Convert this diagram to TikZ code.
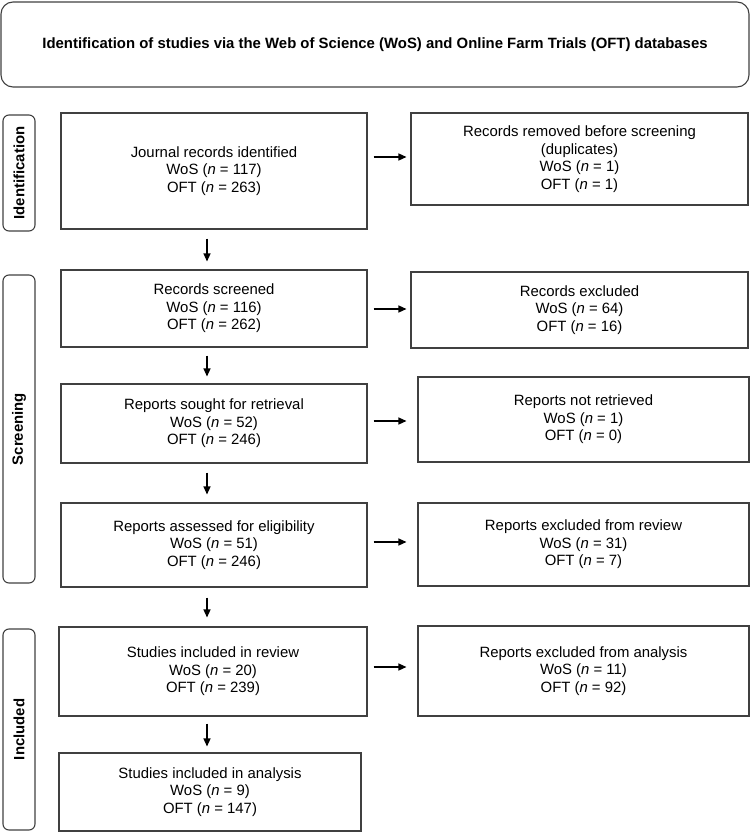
\documentclass[tikz,border=0pt]{standalone}
\usepackage{fontspec}
\setmainfont{Liberation Sans}
\usetikzlibrary{arrows.meta,calc}
\begin{document}
\begin{tikzpicture}[x=1pt,y=-1pt,
  box/.style={draw=black!75,line width=1.1pt,align=center,inner sep=0pt,
    font=\fontsize{14.9}{17.5}\selectfont},
  tab/.style={draw=black!75,line width=1.1pt,rounded corners=6pt,rotate=90,
    inner sep=0pt,font=\fontsize{14.9}{17.5}\selectfont\bfseries},
  arr/.style={line width=1.3pt,-{Triangle[length=8pt,width=7pt]}}]
\useasboundingbox (0,0) rectangle (750,832);

\node[box,rounded corners=12pt,minimum width=748pt,minimum height=85pt,font=\fontsize{14.9}{17.5}\selectfont\bfseries]
  (title) at (375,44.5) {Identification of studies via the Web of Science (WoS) and Online Farm Trials (OFT) databases};

\node[tab,minimum width=116pt,minimum height=32pt] (tid) at (19,173) {Identification};
\node[tab,minimum width=308pt,minimum height=32pt] (tsc) at (19,429) {Screening};
\node[tab,minimum width=201pt,minimum height=32pt] (tin) at (19,729.5) {Included};

\node[box,minimum width=306pt,minimum height=116pt] (b1) at (214,171)
  {Journal records identified\\WoS (\textit{n} = 117)\\OFT (\textit{n} = 263)};
\node[box,minimum width=337pt,minimum height=92pt] (r1) at (579.5,159)
  {Records removed before screening\\(duplicates)\\WoS (\textit{n} = 1)\\OFT (\textit{n} = 1)};
\node[box,minimum width=306pt,minimum height=77pt] (b2) at (214,308.5)
  {Records screened\\WoS (\textit{n} = 116)\\OFT (\textit{n} = 262)};
\node[box,minimum width=337pt,minimum height=76pt] (r2) at (579.5,310)
  {Records excluded\\WoS (\textit{n} = 64)\\OFT (\textit{n} = 16)};
\node[box,minimum width=306pt,minimum height=79pt] (b3) at (214,423.5)
  {Reports sought for retrieval\\WoS (\textit{n} = 52)\\OFT (\textit{n} = 246)};
\node[box,minimum width=331pt,minimum height=85pt] (r3) at (583.5,419.5)
  {Reports not retrieved\\WoS (\textit{n} = 1)\\OFT (\textit{n} = 0)};
\node[box,minimum width=306pt,minimum height=84pt] (b4) at (214,545)
  {Reports assessed for eligibility\\WoS (\textit{n} = 51)\\OFT (\textit{n} = 246)};
\node[box,minimum width=331pt,minimum height=83pt] (r4) at (583.5,544.5)
  {Reports excluded from review\\WoS (\textit{n} = 31)\\OFT (\textit{n} = 7)};
\node[box,minimum width=308pt,minimum height=89pt] (b5) at (213,671.5)
  {Studies included in review\\WoS (\textit{n} = 20)\\OFT (\textit{n} = 239)};
\node[box,minimum width=331pt,minimum height=90pt] (r5) at (583.5,671)
  {Reports excluded from analysis\\WoS (\textit{n} = 11)\\OFT (\textit{n} = 92)};
\node[box,minimum width=302pt,minimum height=78pt] (b6) at (210,792)
  {Studies included in analysis\\WoS (\textit{n} = 9)\\OFT (\textit{n} = 147)};

% vertical arrows
\draw[arr,shorten <=9pt,shorten >=8pt] ([xshift=-7pt]b1.south) -- ([xshift=-7pt]b1.south |- b2.north);
\draw[arr,shorten <=8pt,shorten >=7pt] ([xshift=-7pt]b2.south) -- ([xshift=-7pt]b2.south |- b3.north);
\draw[arr,shorten <=9pt,shorten >=8pt] ([xshift=-7pt]b3.south) -- ([xshift=-7pt]b3.south |- b4.north);
\draw[arr,shorten <=10pt,shorten >=9pt] ([xshift=-7pt]b4.south) -- ([xshift=-7pt]b4.south |- b5.north);
\draw[arr,shorten <=7pt,shorten >=6pt] ([xshift=-6pt]b5.south) -- ([xshift=-6pt]b5.south |- b6.north);

% horizontal arrows
\draw[arr,shorten <=6pt,shorten >=4pt] ([yshift=2pt]b1.east |- r1.west) -- ([yshift=2pt]r1.west);
\draw[arr,shorten <=6pt,shorten >=4pt] ([yshift=1pt]b2.east |- r2.west) -- ([yshift=1pt]r2.west);
\draw[arr,shorten <=6pt,shorten >=11pt] ([yshift=-1.5pt]b3.east |- r3.west) -- ([yshift=-1.5pt]r3.west);
\draw[arr,shorten <=6pt,shorten >=11pt] ([yshift=2.5pt]b4.east |- r4.west) -- ([yshift=2.5pt]r4.west);
\draw[arr,shorten <=6pt,shorten >=11pt] ([yshift=4pt]b5.east |- r5.west) -- ([yshift=4pt]r5.west);
\end{tikzpicture}
\end{document}
